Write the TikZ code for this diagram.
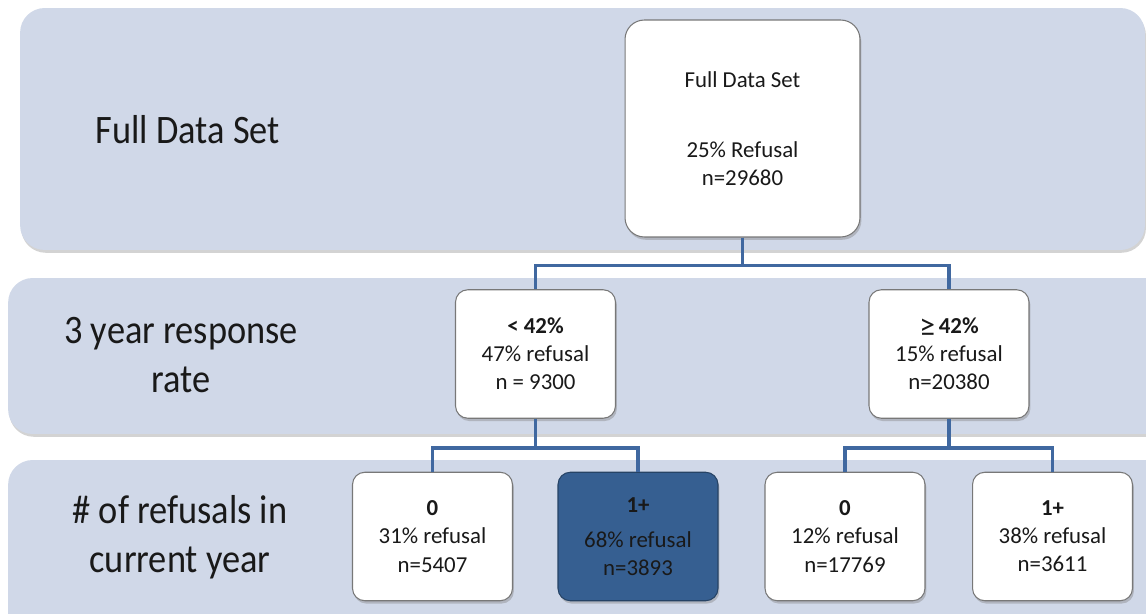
\documentclass[tikz,border=0pt]{standalone}
\usepackage{fontspec}
\setmainfont{Carlito}
\newfontfamily\labelfont[FakeStretch=0.9]{Carlito}
\usetikzlibrary{shadows}
\definecolor{bandfill}{RGB}{208,216,232}
\definecolor{linkblue}{RGB}{64,104,160}
\definecolor{darkfill}{RGB}{54,95,145}
\definecolor{boxline}{RGB}{120,120,120}
\newcommand{\geqsign}{\raisebox{-1.5pt}{\fontsize{18}{16}\selectfont ≥}}
\tikzset{
  band/.style={fill=bandfill, rounded corners=14pt, inner sep=0pt,
    drop shadow={shadow xshift=0.6pt, shadow yshift=-1.6pt, opacity=0.35}},
  bandlabel/.style={align=center, font=\labelfont\fontsize{23}{28}\selectfont, text=black!90},
  treebox/.style={draw=boxline, line width=0.6pt, fill=white, rounded corners=7pt,
    align=center, font=\fontsize{13}{16}\selectfont, text=black!90,
    minimum width=3.2cm, minimum height=2.57cm,
    drop shadow={shadow xshift=0.8pt, shadow yshift=-1.6pt, opacity=0.4}},
  chosen/.style={treebox, fill=darkfill, draw=darkfill!70!black},
  link/.style={draw=linkblue, line width=2.2pt}
}
\begin{document}
\begin{tikzpicture}[x=0.02cm, y=-0.02cm]
    \useasboundingbox (0,0) rectangle (1146,614);
    \clip (0,0) rectangle (1146,614);

    % Bands
    \node (band1) [band, minimum width=22.5cm, minimum height=4.84cm] at (582.5,129) {};
    \node (band2) [band, minimum width=23.4cm, minimum height=3.12cm] at (593,356) {};
    \node (band3) [band, minimum width=23.4cm, minimum height=3.6cm] at (593,550) {};

    % Band labels
    \node (lab1) [bandlabel] at (188,130) {Full Data Set};
    \node (lab2) [bandlabel] at (181,355) {3 year response\\rate};
    \node (lab3) [bandlabel] at (180,537) {\# of refusals in\\current year};

    % Nodes
    \node (root) [treebox, rounded corners=11pt, minimum width=4.7cm, minimum height=4.34cm] at (742.5,128.5)
        {Full Data Set\\[24pt]25\% Refusal\\n=29680};
    \node (lo) [treebox] at (535.5,354) {\textbf{< 42\%}\\47\% refusal\\n = 9300};
    \node (hi) [treebox] at (949,354) {\geqsign\,\textbf{42\%}\\15\% refusal\\n=20380};
    \node (lo0) [treebox] at (432.5,536.5) {\textbf{0}\\31\% refusal\\n=5407};
    \node (lo1) [chosen] at (638,536.5) {\textbf{1+}\\[4pt]68\% refusal\\n=3893};
    \node (hi0) [treebox] at (845,536.5) {\textbf{0}\\12\% refusal\\n=17769};
    \node (hi1) [treebox] at (1052.5,536.5) {\textbf{1+}\\38\% refusal\\n=3611};

    % Links
    \draw [link] (root.south) -- ++(0,28) -| (lo.north);
    \draw [link] (root.south) -- ++(0,28) -| (hi.north);
    \draw [link] (lo.south) -- ++(0,29) -| (lo0.north);
    \draw [link] (lo.south) -- ++(0,29) -| (lo1.north);
    \draw [link] (hi.south) -- ++(0,29) -| (hi0.north);
    \draw [link] (hi.south) -- ++(0,29) -| (hi1.north);

\end{tikzpicture}
\end{document}
